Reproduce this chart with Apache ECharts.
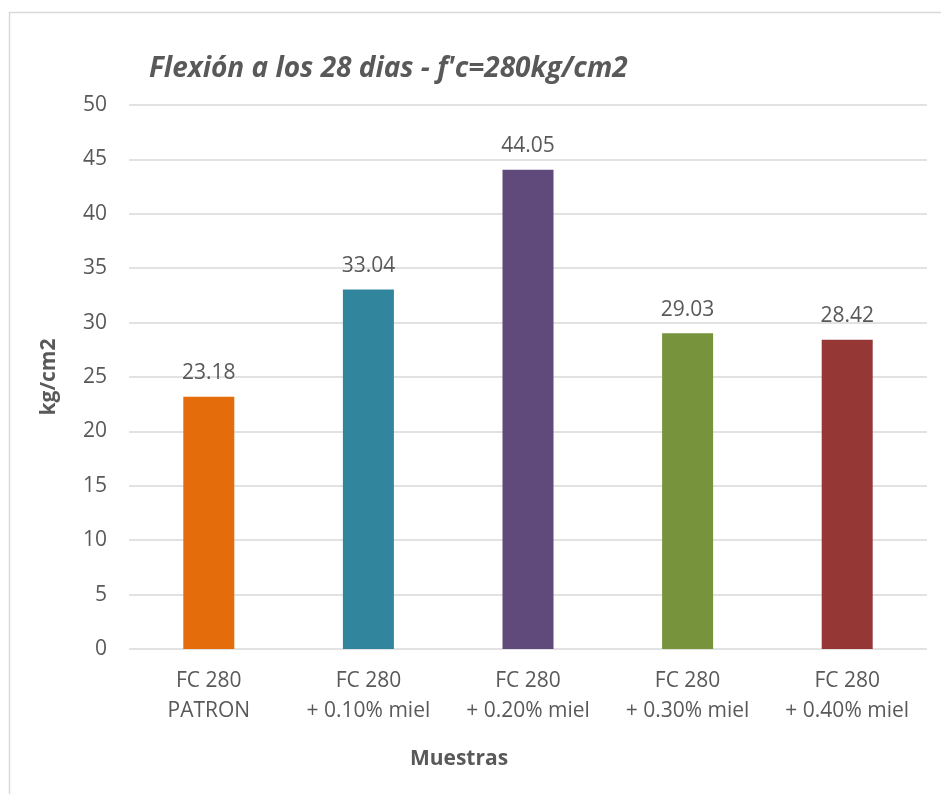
<!DOCTYPE html>
<html>
<head>
<meta charset="utf-8">
<script src="https://cdn.jsdelivr.net/npm/echarts@6/dist/echarts.min.js"></script>
<style>
  html, body { margin: 0; padding: 0; background: #fff; }
  #chart { width: 941px; height: 794px; }
</style>
</head>
<body>
<div id="chart"></div>
<script>
// Flexural strength at 28 days, per mix
const categories = ['FC 280\nPATRON', 'FC 280\n+ 0.10% miel', 'FC 280\n+ 0.20% miel', 'FC 280\n+ 0.30% miel', 'FC 280\n+ 0.40% miel'];
const values = [23.18, 33.04, 44.05, 29.03, 28.42];
const barColors = ['#E46C0A', '#31859C', '#604A7B', '#77933C', '#953735'];
const titleText = "Flexión a los 28 dias - f'c=280kg/cm2";
const xAxisTitle = 'Muestras';
const yAxisTitle = 'kg/cm2';

const FONT = '"Open Sans", sans-serif';
const TEXT = '#595959';

const chart = echarts.init(document.getElementById('chart'), null, { renderer: 'canvas' });

chart.setOption({
  animation: false,
  backgroundColor: '#ffffff',
  grid: { left: 129, right: 14, top: 105, bottom: 145, containLabel: false },
  graphic: [
    {
      type: 'rect',
      shape: { x: 9.5, y: 12.5, width: 960, height: 820 },
      style: { fill: 'none', stroke: '#D9D9D9', lineWidth: 1.5 },
      silent: true, z: -1
    },
    {
      type: 'text',
      x: 149, y: 69,
      style: { text: titleText, font: 'italic bold 28px ' + FONT, fill: TEXT, verticalAlign: 'middle' }
    },
    {
      type: 'text',
      x: 459, y: 759,
      style: { text: xAxisTitle, font: 'bold 21px ' + FONT, fill: TEXT, align: 'center', verticalAlign: 'middle' }
    }
  ],
  xAxis: {
    type: 'category',
    data: categories,
    axisLine: { show: false },
    axisTick: { show: false },
    axisLabel: {
      interval: 0,
      color: TEXT, fontFamily: FONT, fontSize: 21, lineHeight: 30, margin: 17
    }
  },
  yAxis: {
    type: 'value',
    min: 0, max: 50, interval: 5,
    name: yAxisTitle,
    nameLocation: 'middle',
    nameGap: 69,
    nameRotate: 90,
    nameTextStyle: { color: TEXT, fontFamily: FONT, fontSize: 21, fontWeight: 'bold' },
    axisLine: { show: false },
    axisTick: { show: false },
    axisLabel: { color: TEXT, fontFamily: FONT, fontSize: 21, margin: 22 },
    splitLine: { lineStyle: { color: '#D9D9D9', width: 1.5 } }
  },
  series: [{
    type: 'bar',
    barWidth: 51,
    data: values.map((v, i) => ({ value: v, itemStyle: { color: barColors[i] } })),
    label: {
      show: true,
      position: 'top',
      distance: 13,
      color: TEXT,
      fontFamily: FONT,
      fontSize: 21,
      formatter: p => p.value.toFixed(2)
    }
  }]
});
</script>
</body>
</html>
